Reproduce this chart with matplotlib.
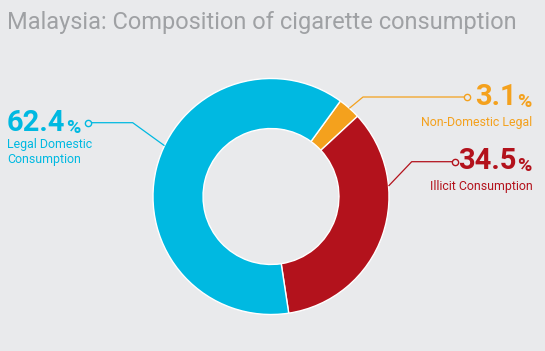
import matplotlib
matplotlib.use("Agg")
import matplotlib.pyplot as plt
import numpy as np

# ---- data ----
categories = ["Non-Domestic Legal", "Illicit Consumption", "Legal Domestic\nConsumption"]
values = [3.1, 34.5, 62.4]
value_labels = ["3.1", "34.5", "62.4"]
colors = ["#f4a11d", "#b3121c", "#00b9e1"]
title = "Malaysia: Composition of cigarette consumption"

BG = "#e9eaec"
plt.rcParams["font.family"] = ["Roboto", "DejaVu Sans"]

W, H = 545, 351
fig = plt.figure(figsize=(W / 100, H / 100), dpi=100, facecolor=BG)
ax = fig.add_axes([0, 0, 1, 1])
ax.set_facecolor(BG)

cx, cy, R = 271, 154.5, 118
wedges, _ = ax.pie(values, colors=colors, startangle=54, counterclock=False,
                   center=(cx, cy), radius=R,
                   wedgeprops=dict(width=R * 0.424, edgecolor="white", linewidth=1.0))
ax.set_xlim(0, W)
ax.set_ylim(0, H)
ax.set_aspect("auto")
ax.axis("off")

ax.text(7, 322, title, fontsize=17, color="#9fa1a4", ha="left", va="baseline")

layout = [
    dict(ang=48.4, ex=363, px=467, py=254, side="right", ty=243.7, ly=[224.8]),
    dict(ang=5.1, ex=411.7, px=455, py=189.3, side="right", ty=180.3, ly=[160.8]),
    dict(ang=154.5, ex=132.7, px=88, py=228.3, side="left", ty=220.3, ly=[203, 188]),
]

fig.canvas.draw()
for i, lay in enumerate(layout):
    c = colors[i]
    a = np.deg2rad(lay["ang"])
    x0, y0 = cx + R * np.cos(a), cy + R * np.sin(a)
    ax.plot([x0, lay["ex"], lay["px"]], [y0, lay["py"], lay["py"]], color=c, lw=0.9,
            solid_capstyle="butt", zorder=3)
    ax.plot([lay["px"]], [lay["py"]], marker="o", ms=4.5, mfc=BG, mec=c, mew=1.0, zorder=4)
    lines = categories[i].split("\n")
    if lay["side"] == "right":
        pct = ax.text(532, lay["ty"], "%", fontsize=14, fontweight="bold", color=c,
                      ha="right", va="baseline")
        ax.annotate(value_labels[i], xy=(0, 0), xycoords=pct, xytext=(-0.5, 0),
                    textcoords="offset points", fontsize=21, fontweight="bold", color=c,
                    ha="right", va="bottom")
        for ln, yy in zip(lines, lay["ly"]):
            ax.text(532.5, yy, ln, fontsize=8.9, color=c, ha="right", va="baseline")
    else:
        num = ax.text(7, lay["ty"], value_labels[i], fontsize=21, fontweight="bold", color=c,
                      ha="left", va="baseline")
        ax.annotate("%", xy=(1, 0), xycoords=num, xytext=(0.5, 0),
                    textcoords="offset points", fontsize=14, fontweight="bold", color=c,
                    ha="left", va="bottom")
        for ln, yy in zip(lines, lay["ly"]):
            ax.text(7, yy, ln, fontsize=8.9, color=c, ha="left", va="baseline")

fig.savefig("out.png", dpi=100, facecolor=BG)
